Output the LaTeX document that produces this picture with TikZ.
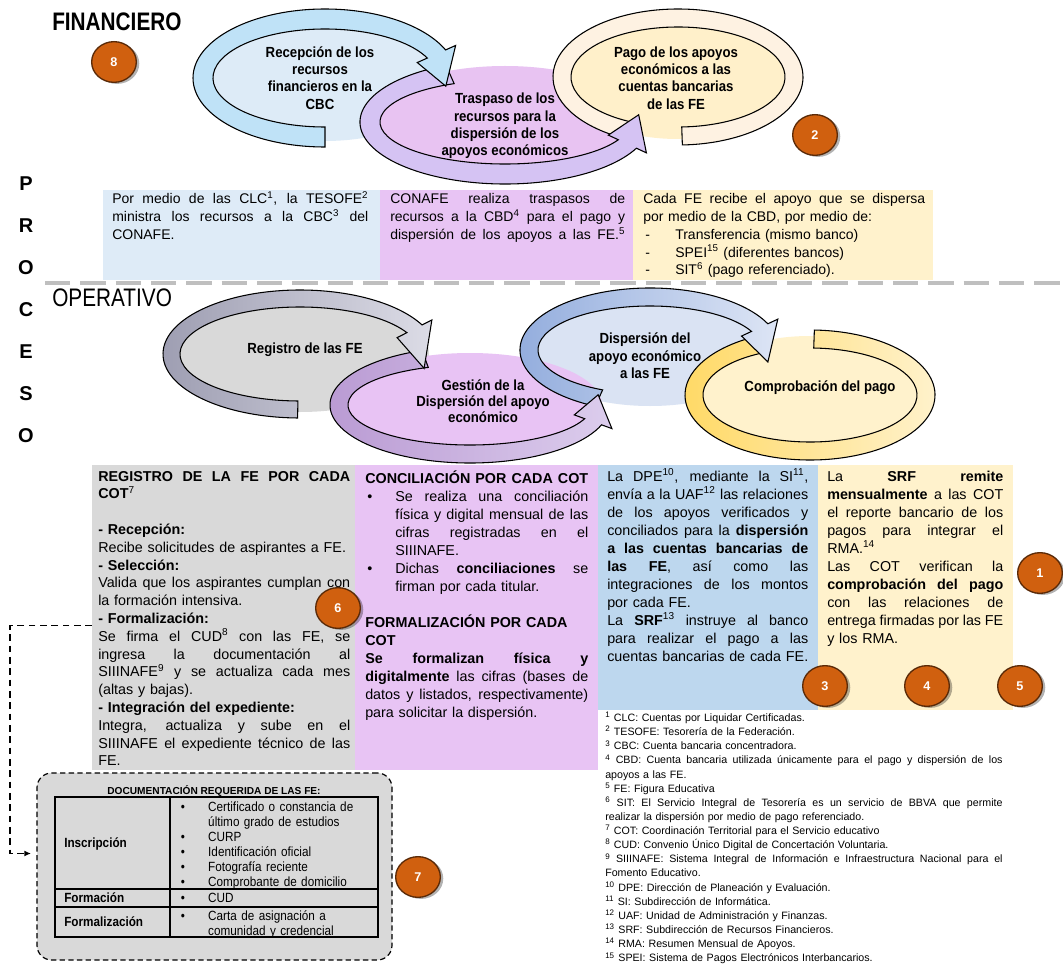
\documentclass[tikz,border=0pt]{standalone}
\usepackage{fontspec}
\setmainfont{Liberation Sans}
\newfontfamily\narrowfont[FakeStretch=0.9]{Liberation Sans}
\newfontfamily\headfont[FakeStretch=0.82]{Liberation Sans}
\newfontfamily\tabfont[FakeStretch=0.88]{Liberation Sans}
\usetikzlibrary{shapes.geometric,shadows,arrows.meta,calc}

\definecolor{finblueband}{HTML}{BFE2F7}
\definecolor{finblueint}{HTML}{DDEBF7}
\definecolor{finpurpband}{HTML}{D5C3F3}
\definecolor{finpurpint}{HTML}{E8C3F2}
\definecolor{finorgband}{HTML}{FEF2E2}
\definecolor{finorgint}{HTML}{FFF0CA}
\definecolor{opgrayint}{HTML}{D9D9D9}
\definecolor{opgrayA}{HTML}{9E9EB2}
\definecolor{opgrayB}{HTML}{DCDCE6}
\definecolor{oppurpint}{HTML}{E8C3F4}
\definecolor{oppurpA}{HTML}{B898D2}
\definecolor{oppurpB}{HTML}{DCCDED}
\definecolor{opblueint}{HTML}{DAE3F3}
\definecolor{opblueA}{HTML}{8FAADC}
\definecolor{opblueB}{HTML}{DDE5F5}
\definecolor{opyelint}{HTML}{FFF2CC}
\definecolor{opyelA}{HTML}{FFD966}
\definecolor{opyelB}{HTML}{FFF2CC}
\definecolor{bxblue}{HTML}{DEEBF7}
\definecolor{bxpurp}{HTML}{E8C4F4}
\definecolor{bxcream}{HTML}{FFF2CC}
\definecolor{bxgray}{HTML}{D9D9D9}
\definecolor{bxsteel}{HTML}{BDD7EE}
\definecolor{sepgray}{HTML}{BFBFBF}
\definecolor{badgefill}{HTML}{D0600F}
\definecolor{badgeedge}{HTML}{5A2A08}

\def\hd{11}
% circular arrow band: cx cy A B t start end tip style
\newcommand\cycarrow[9]{%
 \pgfmathsetmacro\cyA{#3}\pgfmathsetmacro\cyB{#4}%
 \pgfmathsetmacro\cyIA{#3-#5}\pgfmathsetmacro\cyIB{#4-#5}%
 \pgfmathsetmacro\cyOA{#3+\hd}\pgfmathsetmacro\cyOB{#4+\hd}%
 \pgfmathsetmacro\cyJA{#3-#5-\hd}\pgfmathsetmacro\cyJB{#4-#5-\hd}%
 \pgfmathsetmacro\cyMA{#3-#5/2}\pgfmathsetmacro\cyMB{#4-#5/2}%
 \path[#9] ({#1+#3*cos(#6)},{#2+#4*sin(#6)})
   arc[start angle=#6,end angle=#7,x radius=\cyA,y radius=\cyB]
   -- ({#1+\cyOA*cos(#7)},{#2+\cyOB*sin(#7)})
   -- ({#1+\cyMA*cos(#8)},{#2+\cyMB*sin(#8)})
   -- ({#1+\cyJA*cos(#7)},{#2+\cyJB*sin(#7)})
   -- ({#1+\cyIA*cos(#7)},{#2+\cyIB*sin(#7)})
   arc[start angle=#7,end angle=#6,x radius=\cyIA,y radius=\cyIB] -- cycle;}
% ring band without head: cx cy A B t start end style
\newcommand\cycring[8]{%
 \pgfmathsetmacro\cyA{#3}\pgfmathsetmacro\cyB{#4}%
 \pgfmathsetmacro\cyIA{#3-#5}\pgfmathsetmacro\cyIB{#4-#5}%
 \path[#8] ({#1+#3*cos(#6)},{#2+#4*sin(#6)})
   arc[start angle=#6,end angle=#7,x radius=\cyA,y radius=\cyB]
   -- ({#1+\cyIA*cos(#7)},{#2+\cyIB*sin(#7)})
   arc[start angle=#7,end angle=#6,x radius=\cyIA,y radius=\cyIB] -- cycle;}

\newdimen\jw
\newcommand\J[1]{\leavevmode\hbox to \jw{\spaceskip=0.28em plus 1fil minus 0.05em\relax #1}}
\newcommand\sx[1]{\textsuperscript{#1}}
\newcommand\bul{\makebox[22.5pt][l]{\hspace*{1.5pt}\textbullet}}
\newcommand\bulind{\hspace*{22.5pt}}
\newcommand\JB[1]{\hbox to \dimexpr\jw-22.5pt\relax{\spaceskip=0.28em plus 1fil minus 0.05em\relax #1}}
\newcommand\dashitem{\makebox[24pt][l]{\hspace*{1.5pt}-}}
\newcommand\tb{\makebox[20.6pt][l]{\textbullet}}
\newcommand\tbi{\hspace*{20.6pt}}

\begin{document}
\begin{tikzpicture}[x=0.75pt,y=-0.75pt,
  band/.style={draw=black,line width=0.8pt},
  badge/.style={ellipse,draw=badgeedge,line width=1pt,fill=badgefill,
    minimum width=33.5pt,minimum height=30.5pt,inner sep=0pt,text=white,
    font=\bfseries\fontsize{9.5}{11}\selectfont,
    drop shadow={shadow xshift=2.2pt,shadow yshift=-1.2pt,opacity=0.3,fill=black}},
  arclabel/.style={align=center,inner sep=0pt,font=\narrowfont\bfseries\fontsize{11}{13}\selectfont},
  heading/.style={anchor=west,inner sep=0pt,font=\headfont\fontsize{19}{22}\selectfont},
  procletter/.style={inner sep=0pt,font=\bfseries\fontsize{15}{17}\selectfont},
  boxbg/.style={anchor=north west,inner sep=0pt,outer sep=0pt},
  toptext/.style={anchor=base west,inner sep=0pt,align=left,font=\fontsize{10.5}{13.3}\selectfont},
  coltext/.style={anchor=base west,inner sep=0pt,align=left,font=\fontsize{10.75}{13.5}\selectfont},
  tabtext/.style={anchor=base west,inner sep=0pt,align=left,text width=150pt,font=\tabfont\fontsize{10}{11.3}\selectfont},
  tablabel/.style={anchor=west,inner sep=0pt,font=\tabfont\bfseries\fontsize{10}{11}\selectfont},
  conn/.style={draw=black,line width=1.1pt,dash pattern=on 5pt off 3.5pt,-{Latex[length=5pt,width=4.5pt]}}
]
\useasboundingbox (0,0) rectangle (1063,966);
\fill[white] (0,0) rectangle (1063,966);

% ---------------- FINANCIERO cycle ----------------
\fill[finblueint] (325,78) ellipse [x radius=124,y radius=63];
\fill[finpurpint] (505,122) ellipse [x radius=137,y radius=56];
\fill[finorgint] (678,77) ellipse [x radius=118,y radius=62];
\cycring{678}{77}{125}{68}{18}{88}{-245}{band,fill=finorgband}
\cycarrow{505}{122}{145}{62}{20}{246}{25}{-8}{band,fill=finpurpband}
\cycarrow{325}{78}{132}{69}{20}{90}{336}{368}{band,fill=finblueband}

\node[arclabel] (lrecep) at (320,78) {Recepción de los\\recursos\\financieros en la\\CBC};
\node[arclabel] (ltrasp) at (505,126) {Traspaso de los\\recursos para la\\dispersión de los\\apoyos económicos};
\node[arclabel] (lpago) at (676,78) {Pago de los apoyos\\económicos a las\\cuentas bancarias\\de las FE};

\node[heading,font=\headfont\bfseries\fontsize{19}{22}\selectfont] (hfin) at (52,22) {FINANCIERO};

% top text boxes
\node[boxbg,fill=bxblue,minimum width=207.75pt,minimum height=67.5pt] (bx1) at (103,190) {};
\node[boxbg,fill=bxpurp,minimum width=189.75pt,minimum height=67.5pt] (bx2) at (380,190) {};
\node[boxbg,fill=bxcream,minimum width=225pt,minimum height=67.5pt] (bx3) at (633,190) {};

\node[toptext,text width=192pt] (tx1) at (112,204) {\jw=192pt\relax
\J{Por medio de las CLC\sx{1}, la TESOFE\sx{2}}\\
\J{ministra los recursos a la CBC\sx{3} del}\\
CONAFE.};
\node[toptext,text width=176.25pt] (tx2) at (390,204) {\jw=176.25pt\relax
\J{CONAFE realiza traspasos de}\\
\J{recursos a la CBD\sx{4} para el pago y}\\
\J{dispersión de los apoyos a las FE.\sx{5}}};
\node[toptext,text width=211.5pt] (tx3) at (643,204) {\jw=211.5pt\relax
\J{Cada FE recibe el apoyo que se dispersa}\\
por medio de la CBD, por medio de:\\
\dashitem Transferencia (mismo banco)\\
\dashitem SPEI\sx{15} (diferentes bancos)\\
\dashitem SIT\sx{6} (pago referenciado).};

% separator
\draw[sepgray,line width=3pt,dash pattern=on 19pt off 7.5pt] (45,283) -- (1063,283);

% PROCESO letters
\foreach \l [count=\i] in {P,R,O,C,E,S,O}
  \node[procletter] (proc\i) at (26,{142+42*\i}) {\l};

% ---------------- OPERATIVO cycle ----------------
\node[heading] (hop) at (52,298) {OPERATIVO};

\fill[opgrayint] (300,354) ellipse [x radius=129,y radius=58];
\fill[opblueint] (650,350) ellipse [x radius=122,y radius=56];
\fill[oppurpint] (470,405) ellipse [x radius=132,y radius=52];
\fill[opyelint] (810,395) ellipse [x radius=118,y radius=59];
\cycring{810}{395}{125}{65}{18}{272}{605}{band,left color=opyelA,right color=opyelB}
\cycarrow{650}{350}{130}{62}{18}{115}{335}{373}{band,left color=opblueA,right color=opblueB}
\cycarrow{470}{405}{140}{58}{18}{250}{20}{-12}{band,left color=oppurpA,right color=oppurpB}
\cycarrow{300}{354}{137}{64}{17}{91}{333}{375}{band,left color=opgrayA,right color=opgrayB}

\node[arclabel] (lreg) at (305,350) {Registro de las FE};
\node[arclabel,font=\narrowfont\bfseries\fontsize{11}{12}\selectfont] (lgest) at (483,401) {Gestión de la\\Dispersión del apoyo\\económico};
\node[arclabel] (ldisp) at (645,356) {Dispersión del\\apoyo económico\\a las FE};
\node[arclabel] (lcomp) at (820,388) {Comprobación del pago};

% column boxes
\node[boxbg,fill=bxgray,minimum width=197.25pt,minimum height=228.75pt] (grayb) at (92,465) {};
\node[boxbg,fill=bxpurp,minimum width=182.25pt,minimum height=228.75pt] (purpb) at (355,465) {};
\node[boxbg,fill=bxsteel,minimum width=165pt,minimum height=183.75pt] (blueb) at (598,465) {};
\node[boxbg,fill=bxcream,minimum width=146.25pt,minimum height=183.75pt] (creamb) at (818,465) {};

\node[coltext,text width=189pt,font=\fontsize{10.75}{13.35}\selectfont] (cg) at (98,481) {\jw=189pt\relax
\J{\textbf{REGISTRO DE LA FE POR CADA}}\\
\textbf{COT}\sx{7}\\
\mbox{}\\
\textbf{- Recepción:}\\
Recibe solicitudes de aspirantes a FE.\\
\textbf{- Selección:}\\
\J{Valida que los aspirantes cumplan con}\\
la formación intensiva.\\
\textbf{- Formalización:}\\
\J{Se firma el CUD\sx{8} con las FE, se}\\
\J{ingresa la documentación al}\\
\J{SIIINAFE\sx{9} y se actualiza cada mes}\\
(altas y bajas).\\
\textbf{- Integración del expediente:}\\
\J{Integra, actualiza y sube en el}\\
\J{SIIINAFE el expediente técnico de las}\\
FE.};

\node[coltext,text width=167.25pt] (cp) at (365,483) {\jw=167.25pt\relax
\J{\textbf{CONCILIACIÓN POR CADA COT}}\\
\bul\JB{Se realiza una conciliación}\\
\bulind\JB{física y digital mensual de las}\\
\bulind\JB{cifras registradas en el}\\
\bulind SIIINAFE.\\
\bul\JB{Dichas \textbf{conciliaciones} se}\\
\bulind firman por cada titular.\\
\mbox{}\\
\textbf{FORMALIZACIÓN POR CADA}\\
\textbf{COT}\\
\J{\textbf{Se formalizan física y}}\\
\J{\textbf{digitalmente} las cifras (bases de}\\
\J{datos y listados, respectivamente)}\\
para solicitar la dispersión.};

\node[coltext,text width=150.75pt] (cb) at (607,481) {\jw=150.75pt\relax
\J{La DPE\sx{10}, mediante la SI\sx{11},}\\
\J{envía a la UAF\sx{12} las relaciones}\\
\J{de los apoyos verificados y}\\
\J{conciliados para la \textbf{dispersión}}\\
\J{\textbf{a las cuentas bancarias de}}\\
\J{\textbf{las FE}, así como las}\\
\J{integraciones de los montos}\\
por cada FE.\\
\J{La \textbf{SRF}\sx{13} instruye al banco}\\
\J{para realizar el pago a las}\\
\J{cuentas bancarias de cada FE.}};

\node[coltext,text width=132pt] (cc) at (827,481) {\jw=132pt\relax
\J{La \textbf{SRF} \textbf{remite}}\\
\J{\textbf{mensualmente} a las COT}\\
\J{el reporte bancario de los}\\
\J{pagos para integrar el}\\
RMA.\sx{14}\\
\J{Las COT verifican la}\\
\J{\textbf{comprobación del pago}}\\
\J{con las relaciones de}\\
\J{entrega firmadas por las FE}\\
y los RMA.};

% footnotes
\node[anchor=base west,inner sep=0pt,align=left,text width=298pt,font=\fontsize{8}{10.6}\selectfont] (fn) at (605,721.5) {\jw=298pt\relax
\sx{1} CLC: Cuentas por Liquidar Certificadas.\\
\sx{2} TESOFE: Tesorería de la Federación.\\
\sx{3} CBC: Cuenta bancaria concentradora.\\
\J{\sx{4} CBD: Cuenta bancaria utilizada únicamente para el pago y dispersión de los}\\
apoyos a las FE.\\
\sx{5} FE: Figura Educativa\\
\J{\sx{6} SIT: El Servicio Integral de Tesorería es un servicio de BBVA que permite}\\
realizar la dispersión por medio de pago referenciado.\\
\sx{7} COT: Coordinación Territorial para el Servicio educativo\\
\sx{8} CUD: Convenio Único Digital de Concertación Voluntaria.\\
\J{\sx{9} SIIINAFE: Sistema Integral de Información e Infraestructura Nacional para el}\\
Fomento Educativo.\\
\sx{10} DPE: Dirección de Planeación y Evaluación.\\
\sx{11} SI: Subdirección de Informática.\\
\sx{12} UAF: Unidad de Administración y Finanzas.\\
\sx{13} SRF: Subdirección de Recursos Financieros.\\
\sx{14} RMA: Resumen Mensual de Apoyos.\\
\sx{15} SPEI: Sistema de Pagos Electrónicos Interbancarios.};

% documentation box
\node[boxbg,draw=black,line width=0.9pt,dash pattern=on 4pt off 2.5pt,rounded corners=11pt,fill=bxgray,
  minimum width=266.25pt,minimum height=140.25pt] (docbox) at (37,773) {};
\node[inner sep=0pt,font=\bfseries\fontsize{7.6}{9}\selectfont] (doctitle) at (214,791) {DOCUMENTACIÓN REQUERIDA DE LAS FE:};
\draw[line width=1pt] (55,797) rectangle (378,937);
\draw[line width=1pt] (170,797) -- (170,937);
\draw[line width=1pt] (55,889) -- (378,889);
\draw[line width=1pt] (55,907) -- (378,907);
\node[tablabel] (rins) at (64,844) {Inscripción};
\node[tablabel] (rfor) at (64,898) {Formación};
\node[tablabel] (rfml) at (64,922) {Formalización};
\node[tabtext] (iins) at (180.5,811) {\tb Certificado o constancia de\\
\tbi último grado de estudios\\
\tb CURP\\
\tb Identificación oficial\\
\tb Fotografía reciente\\
\tb Comprobante de domicilio};
\node[tabtext] (ifor) at (180.5,902) {\tb CUD};
\node[tabtext] (ifml) at (180.5,920) {\tb Carta de asignación a\\
\tbi comunidad y credencial};

% dashed connector
\draw[conn] ($(grayb.west)+(0,8)$) -- ++(-82,0) |- ($(docbox.west)+(-6,-13)$);

% badges
\node[badge] (b8) at (114,62) {8};
\node[badge] (b2) at (815,135) {2};
\node[badge] (b1) at (1040,573) {1};
\node[badge] (b3) at (825,686) {3};
\node[badge] (b4) at (927,686) {4};
\node[badge] (b5) at (1020,686) {5};
\node[badge] (b6) at (338,608) {6};
\node[badge] (b7) at (418,877) {7};
\end{tikzpicture}
\end{document}
